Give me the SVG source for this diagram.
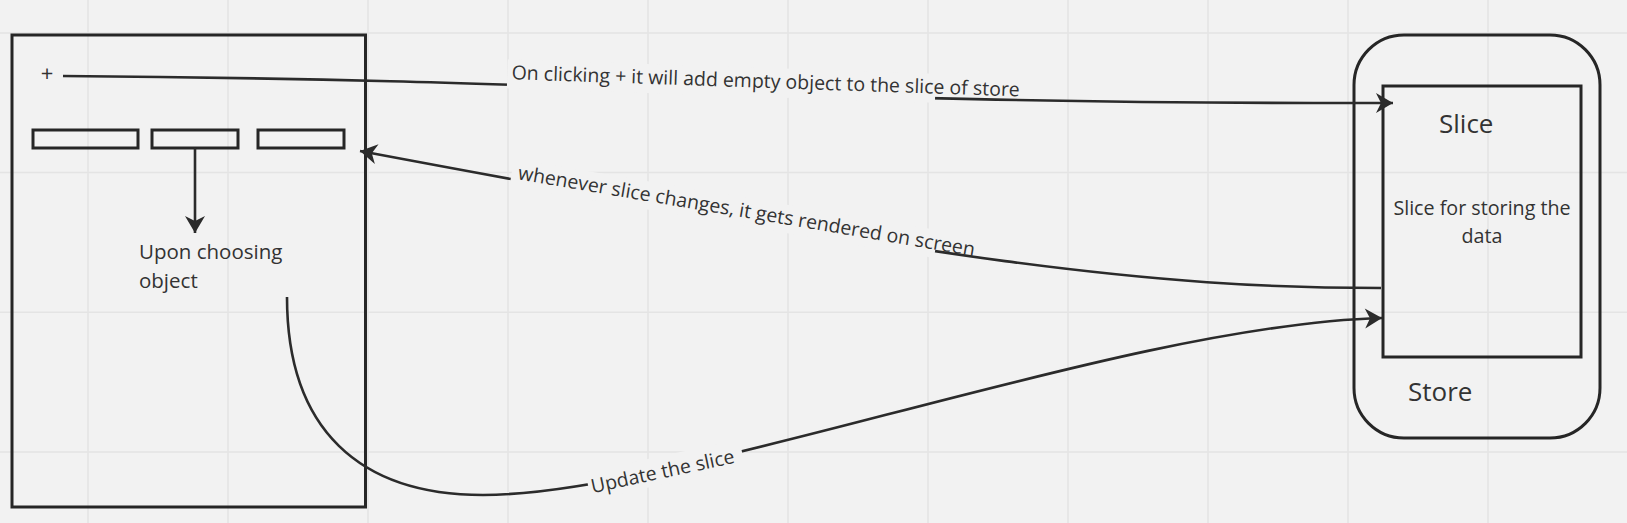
<svg xmlns="http://www.w3.org/2000/svg" width="1627" height="523" viewBox="0 0 1627 523">
<style>
.grid{stroke:#e4e4e4;stroke-width:1.5}
.box{fill:none;stroke:#262626;stroke-width:3}
.conn{fill:none;stroke:#2b2b2b;stroke-width:2.6}
.t{font-family:"Open Sans","DejaVu Sans",sans-serif;fill:#333}
.lbl{font-size:19.5px;text-anchor:middle}
.bg{fill:#f2f2f2;stroke:none}
</style>
<defs>
<marker id="ah" markerUnits="userSpaceOnUse" viewBox="-18 -11 19 22" markerWidth="19" markerHeight="22" refX="0" refY="0" orient="auto">
<path d="M0,0 L-17,-10 L-12,0 L-17,10 Z" fill="#2b2b2b"/>
</marker>
</defs>
<rect x="0" y="0" width="1627" height="523" fill="#f2f2f2"/>
<g id="grid">
<path class="grid" d="M88,0V523M228,0V523M368,0V523M508,0V523M648,0V523M788,0V523M928,0V523M1068,0V523M1208,0V523M1348,0V523M1488,0V523M0,33H1627M0,172.5H1627M0,312.3H1627M0,452H1627"/>
</g>
<g id="screen">
<rect class="box" x="12" y="35" width="353.5" height="472"/>
<text class="t" x="47" y="81" font-size="22" text-anchor="middle">+</text>
</g>
<g id="item1"><rect class="box" x="33" y="130" width="105" height="18"/></g>
<g id="item2"><rect class="box" x="152" y="130" width="86" height="18"/></g>
<g id="item3"><rect class="box" x="258" y="130" width="86" height="18"/></g>
<g id="choose">
<text class="t" font-size="20.5"><tspan x="139" y="259">Upon choosing</tspan><tspan x="139" y="288">object</tspan></text>
</g>
<g id="store">
<rect class="box" x="1354" y="35" width="246" height="403" rx="50" ry="50"/>
<text class="t" x="1408" y="401" font-size="26">Store</text>
</g>
<g id="slice">
<rect class="box" x="1383" y="86" width="198" height="271"/>
<text class="t" x="1439" y="133" font-size="26">Slice</text>
<text class="t" font-size="19.7" text-anchor="middle"><tspan x="1482" y="215">Slice for storing the</tspan><tspan x="1482" y="243">data</tspan></text>
</g>
<g id="connectors">
<path class="conn" d="M195,148 V233" marker-end="url(#ah)"/>
<path class="conn" d="M63,76 C620,80 780,104 1393,103" marker-end="url(#ah)"/>
<path class="conn" d="M1381,288 C1150,288 950,262 360,151" marker-end="url(#ah)"/>
<path class="conn" d="M287,297 C287,430 360,495 483,495 C680,495 1120,325 1382,318" marker-end="url(#ah)"/>
<g id="labels">
<g transform="rotate(1.93 765.5 87.9)"><rect class="bg" x="507" y="68" width="428.3" height="29"/><text class="t lbl" x="765.5" y="87.9">On clicking + it will add empty object to the slice of store</text></g>
<g transform="rotate(9.57 745.5 217.7)"><rect class="bg" x="507.5" y="198" width="430.5" height="28"/><text class="t lbl" x="745.5" y="217.7">whenever slice changes, it gets rendered on screen</text></g>
<g transform="rotate(-12 664 478)"><rect class="bg" x="588.2" y="456" width="157.5" height="28"/><text class="t lbl" x="664" y="478">Update the slice</text></g>
</g>
</g>
</svg>
